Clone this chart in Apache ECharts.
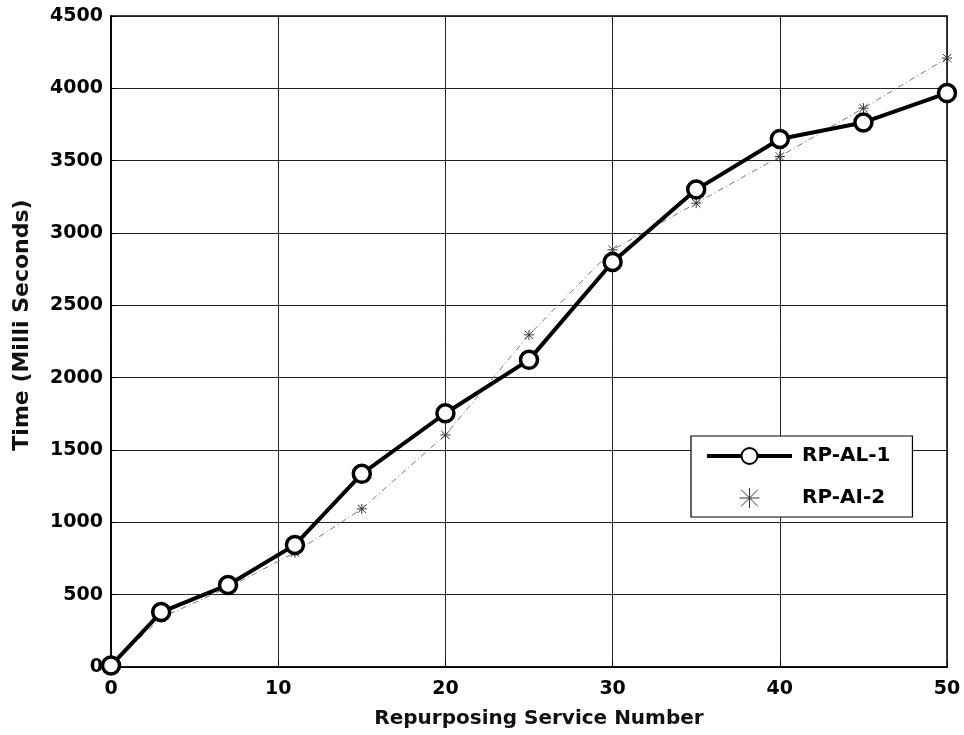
<!DOCTYPE html>
<html><head><meta charset="utf-8">
<script src="https://cdn.jsdelivr.net/npm/echarts@6/dist/echarts.min.js"></script>
<style>html,body{margin:0;padding:0;background:#fff}#c{width:964px;height:735px}</style>
</head><body><div id="c"></div>
<script>
const xValues = [0, 3, 7, 11, 15, 20, 25, 30, 35, 40, 45, 50];
const rpAL1 = [10, 380, 567, 844, 1335, 1754, 2123, 2800, 3300, 3650, 3764, 3967];
const rpAI2 = [10, 340, 550, 790, 1093, 1604, 2296, 2884, 3206, 3529, 3863, 4209];
const yTicks = [0, 500, 1000, 1500, 2000, 2500, 3000, 3500, 4000, 4500];
const xTicks = [0, 10, 20, 30, 40, 50];
const xTitle = 'Repurposing Service Number';
const yTitle = 'Time (Milli Seconds)';

const font = 'DejaVu Sans, Arial, sans-serif';
const star = 'path://M0,0L10,10M10,0L0,10M5,-1L5,11M-1,5L11,5';
const chart = echarts.init(document.getElementById('c'), null, {renderer: 'canvas'});
chart.setOption({
  animation: false,
  backgroundColor: '#fff',
  grid: {left: 111, right: 17, top: 16, bottom: 68, show: true, borderColor: '#000', borderWidth: 1.5},
  xAxis: {
    type: 'value', min: xTicks[0], max: xTicks[xTicks.length - 1], interval: 10,
    axisLine: {show: true, lineStyle: {color: '#000', width: 1.5}},
    axisTick: {show: true, inside: true, length: 6, lineStyle: {color: '#000'}},
    axisLabel: {fontFamily: font, fontSize: 19, color: '#000', fontWeight: 'bold', margin: 13,
      formatter: v => String(v)},
    splitLine: {show: true, lineStyle: {color: '#222', width: 1}}
  },
  yAxis: {
    type: 'value', min: yTicks[0], max: yTicks[yTicks.length - 1], interval: 500,
    axisLine: {show: true, lineStyle: {color: '#000', width: 1.5}},
    axisTick: {show: true, inside: true, length: 6, lineStyle: {color: '#000'}},
    axisLabel: {fontFamily: font, fontSize: 19, color: '#000', fontWeight: 'bold', margin: 8,
      formatter: v => String(v)},
    splitLine: {show: true, lineStyle: {color: '#222', width: 1}}
  },
  graphic: [
    {type: 'text', x: 539, y: 719, style: {text: xTitle, fontFamily: font, fontSize: 20, fontWeight: 'bold',
      fill: '#111', align: 'center', verticalAlign: 'middle'}},
    {type: 'text', x: 22, y: 325, rotation: Math.PI / 2, style: {text: yTitle, fontFamily: font, fontSize: 22,
      fontWeight: 'bold', fill: '#111', align: 'center', verticalAlign: 'middle'}}
  ],
  legend: {
    left: 691, top: 436, orient: 'vertical',
    backgroundColor: '#fff', borderColor: '#000', borderWidth: 1.2,
    padding: [9, 22, 8, 14], itemGap: 20, itemWidth: 85, itemHeight: 20,
    textStyle: {fontFamily: font, fontSize: 20, color: '#000', fontWeight: 'bold', lineHeight: 22, padding: [0, 0, 0, 5]},
    data: [
      {name: 'RP-AL-1', lineStyle: {width: 4, color: '#000'}},
      {name: 'RP-AI-2', icon: star, itemStyle: {color: 'transparent', borderColor: '#333', borderWidth: 1}}
    ]
  },
  series: [
    {
      name: 'RP-AI-2', type: 'line', data: xValues.map((x, i) => [x, rpAI2[i]]),
      symbol: star, symbolSize: 10, showSymbol: true,
      lineStyle: {color: '#777', width: 1, type: [6, 3, 1, 3]},
      itemStyle: {color: 'transparent', borderColor: '#333', borderWidth: 1},
      z: 2
    },
    {
      name: 'RP-AL-1', type: 'line', data: xValues.map((x, i) => [x, rpAL1[i]]),
      symbol: 'circle', symbolSize: 17, showSymbol: true,
      lineStyle: {color: '#000', width: 4},
      itemStyle: {color: '#fff', borderColor: '#000', borderWidth: 3.5},
      z: 3
    }
  ]
});
</script></body></html>
